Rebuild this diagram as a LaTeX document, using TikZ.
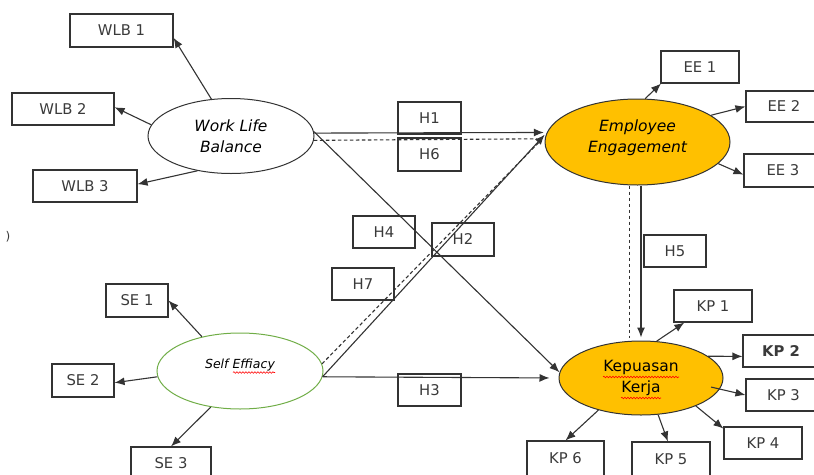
\documentclass[tikz,border=0pt]{standalone}
\usepackage{fontspec}
\setmainfont{DejaVu Sans}
\usetikzlibrary{shapes.geometric,arrows.meta,decorations.pathmorphing,calc}
\definecolor{linec}{HTML}{333333}
\definecolor{txtc}{HTML}{3A3A3A}
\definecolor{gold}{HTML}{FFC000}
\definecolor{segreen}{HTML}{70AD47}
\begin{document}
\begin{tikzpicture}[x=1pt,y=-1pt,
  box/.style={draw=linec, line width=1.1pt, rectangle, inner sep=0pt, text=txtc, font=\fontsize{14.8}{17}\selectfont},
  lat/.style={draw=linec, line width=1pt, ellipse, inner sep=0pt},
  arr/.style={draw=linec, line width=1.1pt, -{Latex[length=10pt,width=8pt]}},
  dsh/.style={draw=linec, line width=1.1pt, dash pattern=on 3.5pt off 2.5pt},
  wavy/.style={draw=red, line width=0.6pt, decorate, decoration={snake, amplitude=0.8pt, segment length=3pt}},
  lbl/.style={font=\fontsize{15.5}{21}\selectfont, align=center, inner sep=0pt}
]
\useasboundingbox (0,0) rectangle (814,474);

% latent variables
\node[lat, minimum width=166pt, minimum height=75pt] (wlb) at (231,136) {};
\node[lat, fill=gold, minimum width=185pt, minimum height=86pt] (ee) at (637.5,142) {};
\node[lat, draw=segreen, minimum width=166pt, minimum height=76pt] (se) at (240,371) {};
\node[lat, fill=gold, minimum width=164pt, minimum height=74pt] (kp) at (641,378) {};

\node[lbl, font=\fontsize{15.5}{21}\selectfont\itshape] (wlbt) at (231,136.5) {Work Life\\Balance};
\node[lbl, font=\fontsize{15.5}{21}\selectfont\itshape] (eet) at (637.5,137.5) {Employee\\Engagement};
\node[lbl, font=\fontsize{12.5}{15}\selectfont\itshape] (set) at (240,365) {Self Effiacy};
\node[lbl] (kpt) at (641,378) {Kepuasan\\Kerja};
\draw[wavy] (233,372.5) -- (275,372.5);
\draw[wavy] (603,377) -- (679,377);
\draw[wavy] (621,398) -- (661,398);

% indicator boxes
\node[box, minimum width=103pt, minimum height=33pt] (wlb1) at (121.5,30.5) {WLB 1};
\node[box, minimum width=102pt, minimum height=32pt] (wlb2) at (63,109) {WLB 2};
\node[box, minimum width=104pt, minimum height=32pt] (wlb3) at (85,186) {WLB 3};
\node[box, minimum width=78pt, minimum height=32pt] (ee1) at (700,67) {EE 1};
\node[box, minimum width=76pt, minimum height=31pt] (ee2) at (784,106.5) {EE 2};
\node[box, minimum width=78pt, minimum height=33pt] (ee3) at (783,170.5) {EE 3};
\node[box, minimum width=62pt, minimum height=33pt] (se1) at (137,300.5) {SE 1};
\node[box, minimum width=62pt, minimum height=33pt] (se2) at (83,380.5) {SE 2};
\node[box, minimum width=80pt, minimum height=33pt] (se3) at (171,463.5) {SE 3};
\node[box, minimum width=78pt, minimum height=32pt] (kp1) at (713,306) {KP 1};
\node[box, minimum width=76pt, minimum height=32pt, font=\fontsize{14.8}{17}\selectfont\bfseries] (kp2) at (781,351) {KP 2};
\node[box, minimum width=75pt, minimum height=32pt] (kp3) at (783.5,395) {KP 3};
\node[box, minimum width=78pt, minimum height=32pt] (kp4) at (763,443) {KP 4};
\node[box, minimum width=78pt, minimum height=34pt] (kp5) at (671,459) {KP 5};
\node[box, minimum width=77pt, minimum height=35pt] (kp6) at (565.5,458.5) {KP 6};

% hypothesis boxes
\node[box, minimum width=63pt, minimum height=32pt] (h1) at (429.5,118) {H1};
\node[box, minimum width=63pt, minimum height=33pt] (h6) at (429.5,154.5) {H6};
\node[box, minimum width=62pt, minimum height=32pt] (h4) at (384,232) {H4};
\node[box, minimum width=62pt, minimum height=33pt] (h2) at (463,239.5) {H2};
\node[box, minimum width=62pt, minimum height=32pt] (h7) at (363,284) {H7};
\node[box, minimum width=63pt, minimum height=32pt] (h3) at (429.5,390) {H3};
\node[box, minimum width=62pt, minimum height=32pt] (h5) at (675,251) {H5};

\node[inner sep=0pt, text=txtc, font=\fontsize{12}{12}\selectfont] (stray) at (8,237) {)};

% measurement arrows
\draw[arr] (wlb.118) -- (wlb1.-8);
\draw[arr] (wlb.172.5) -- (wlb2.2);
\draw[arr] (wlb.226.6) -- (wlb3.2);
\draw[arr] (ee.80) -- (ee1.203);
\draw[arr] (ee.20) -- (ee2.west);
\draw[arr] (ee.-15) -- (ee3.186);
\draw[arr] (se.138.7) -- (se1.east);
\draw[arr] (se.184.5) -- (se2.-4.5);
\draw[arr] (se.231) -- (se3.north);
\draw[arr] (kp.67) -- (kp1.210);
\draw[arr] (kp.18) -- (kp2.188);
\draw[arr, shorten <=-9pt] (kp.-8) -- (kp3.west);
\draw[arr] (kp.-27) -- (kp4.160);
\draw[arr] (kp.-65) -- (kp5.100);
\draw[arr] (kp.217) -- (kp6.north);

% structural paths
\draw[arr, shorten >=3pt] (wlb.2) -- (ee.174);
\draw[dsh, shorten >=8pt] (wlb.-3) -- (ee.178);
\draw[arr] (wlb.3) -- (kp.176);
\draw[arr, shorten >=3pt] (se.-4) -- (ee.174);
\draw[dsh, shorten >=6pt] (se.5.5) -- (ee.176);
\draw[arr, shorten >=9pt] (se.-4) -- (kp.180);
\draw[arr, shorten >=3pt] (ee.south -| kp.north) -- (kp.north);
\draw[dsh, shorten >=3pt] ([xshift=-8pt]ee.south) -- ([xshift=-8pt]ee.south |- kp.north);
\end{tikzpicture}
\end{document}
